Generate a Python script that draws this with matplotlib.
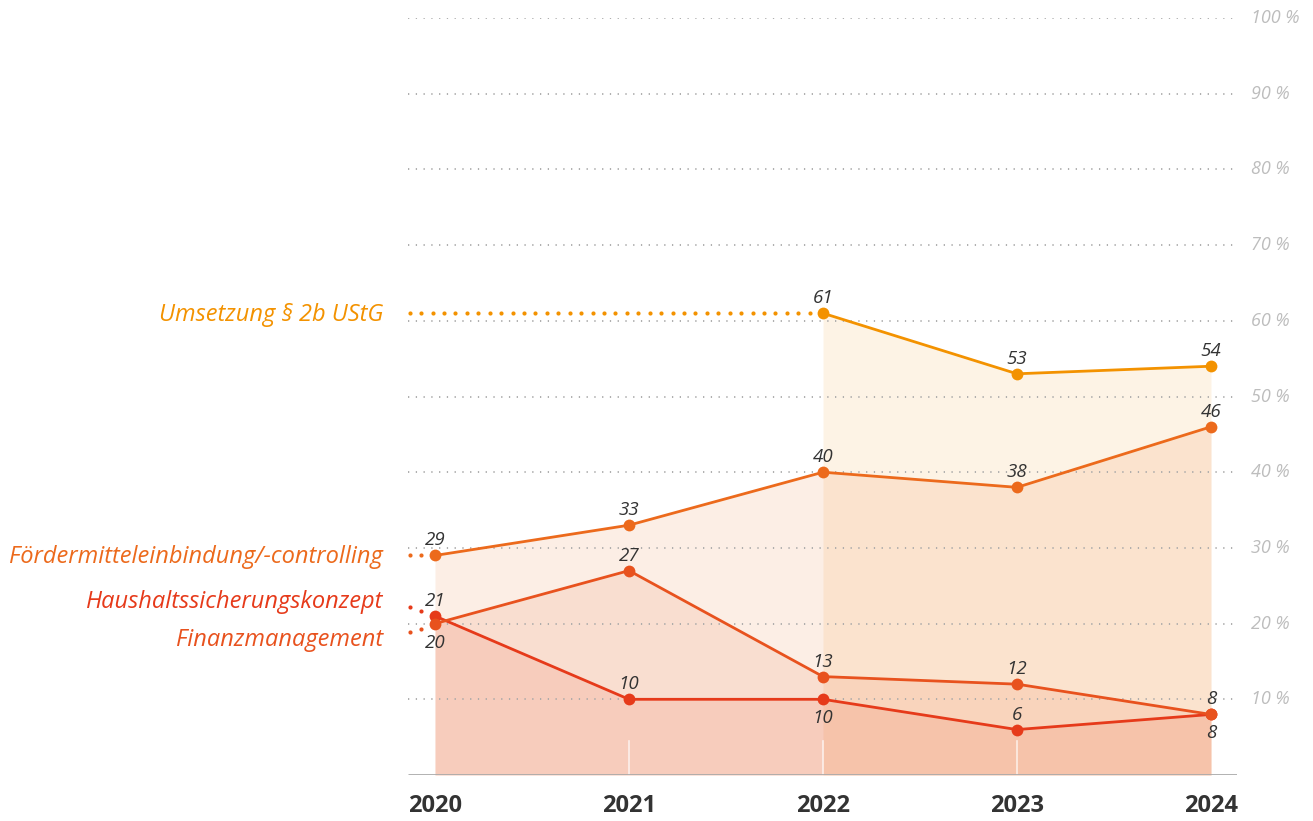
import numpy as np
import matplotlib
matplotlib.use('Agg')
import matplotlib.pyplot as plt

years = [2020, 2021, 2022, 2023, 2024]
names = ['Umsetzung § 2b UStG', 'Fördermitteleinbindung/-controlling',
         'Haushaltssicherungskonzept', 'Finanzmanagement']
umsetzung = [np.nan, np.nan, 61, 53, 54]
foerder = [29, 33, 40, 38, 46]
haushalt = [21, 10, 10, 6, 8]
finanz = [20, 27, 13, 12, 8]
yticks = [10, 20, 30, 40, 50, 60, 70, 80, 90, 100]

colors = ['#F39200', '#EC6A1C', '#E63A1A', '#E8521E']
fill_alpha = [0.10, 0.115, 0.11, 0.10]
# label position: +1 above, -1 below
label_side = [
    [0, 0, 1, 1, 1],
    [1, 1, 1, 1, 1],
    [1, 1, -1, 1, -1],
    [-1, 1, 1, 1, 1],
]
# y of the series name on the left (in %), and leader dots
name_y = [60.8, 28.8, 22.8, 17.8]
leader = [
    ([2019.87, 2021.99], [61, 61]),
    ([2019.87, 2019.93], [29, 29]),
    ([2019.87, 2019.93], [22.2, 21.6]),
    ([2019.87, 2019.93], [18.9, 19.3]),
]

plt.rcParams['font.family'] = ['Open Sans', 'DejaVu Sans']

fig = plt.figure(figsize=(13.13, 8.21), dpi=100)
W, H = 1313, 821
x0, x1 = 408, 1237
ax = fig.add_axes([x0 / W, 1 - 775 / H, (x1 - x0) / W, (775 - 18) / H])
px_year = (1211 - 435) / 4
ax.set_xlim(2020 - (435 - x0) / px_year, 2024 + (x1 - 1211) / px_year)
ax.set_ylim(0, 100)
ax.axis('off')

# grid
for t in yticks:
    ax.plot(ax.get_xlim(), [t, t], color='#A8A8A8', lw=1.3,
            linestyle=(0, (0.7, 3.6)), zorder=4)
    ax.text(2024 + 40 / px_year, t, f'{t} %', ha='left', va='center',
            fontsize=13, style='italic', color='#BDBDBD')
ax.plot(ax.get_xlim(), [0, 0], color='#AAAAAA', lw=2, zorder=6, solid_capstyle='butt')

series = [umsetzung, foerder, haushalt, finanz]
for s, col, a in zip(series, colors, fill_alpha):
    v = np.array(s, dtype=float)
    m = ~np.isnan(v)
    ax.fill_between(np.array(years)[m], 0, v[m], color=col, alpha=a, lw=0, zorder=2)

# thin white seams in the fills
for yr in years[1:4]:
    ax.plot([yr, yr], [0, 4.5], color='white', lw=1.2, alpha=0.7, zorder=3)

for s, col, sides in zip(series, colors, label_side):
    ax.plot(years, s, color=col, lw=2, marker='o', markersize=8.5,
            markeredgewidth=0, zorder=5)
    for yr, val, sd in zip(years, s, sides):
        if np.isnan(val):
            continue
        off = 15 if sd > 0 else -19
        ax.annotate(str(val), (yr, val), xytext=(0, off), textcoords='offset pixels',
                    ha='center', va='center', fontsize=13.5, style='italic',
                    color='#333333', zorder=7)

for name, ny, col, (lx, ly) in zip(names, name_y, colors, leader):
    ax.text(2020 - (435 - 383) / px_year, ny, name, ha='right', va='center',
            fontsize=17, style='italic', color=col)
    n = max(2, int(round((lx[1] - lx[0]) * px_year / 11.5)) + 1)
    ax.plot(np.linspace(lx[0], lx[1], n), np.linspace(ly[0], ly[1], n),
            linestyle='none', marker='o', markersize=3, markeredgewidth=0,
            color=col, clip_on=False, zorder=4)

for yr in years:
    ax.text(yr, -4.1, str(yr), ha='center', va='center', fontsize=17,
            fontweight='bold', color='#333333')

fig.savefig('out.png', dpi=100)
